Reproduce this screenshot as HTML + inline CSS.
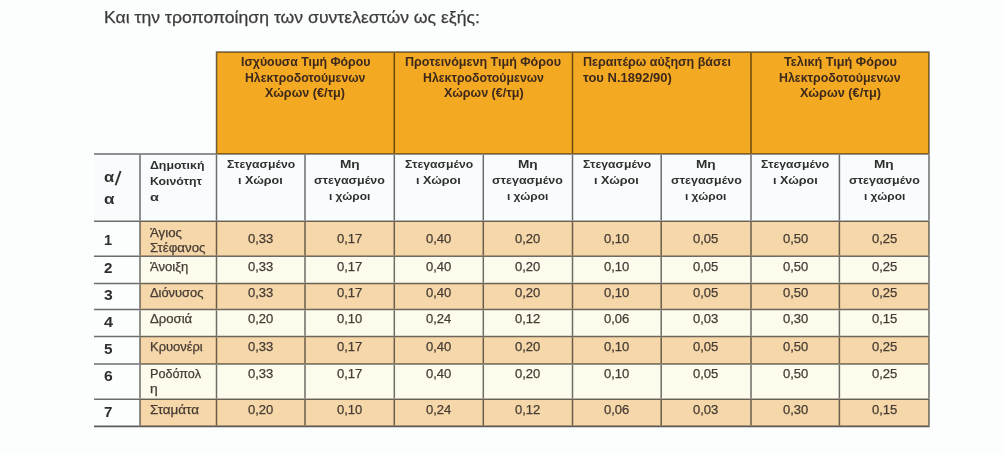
<!DOCTYPE html>
<html><head><meta charset="utf-8"><style>
html,body{margin:0;padding:0;}
body{width:1005px;height:454px;overflow:hidden;background:#fcfdfd;position:relative;font-family:"Liberation Sans",sans-serif;}
.r{position:absolute;}
.l{position:absolute;mix-blend-mode:multiply;}
.t{position:absolute;white-space:nowrap;transform-origin:0 0;}
.n{-webkit-text-stroke:0.25px currentColor;}
#w{position:absolute;left:0;top:0;width:1005px;height:454px;}
</style></head><body><div id="w">

<svg width="1005" height="454" style="position:absolute;left:0;top:0" shape-rendering="geometricPrecision">
<rect x="216.50" y="52.00" width="712.50" height="102.00" fill="#f4a923"/>
<rect x="94.00" y="154.00" width="835.00" height="67.30" fill="#f9fcfd"/>
<rect x="140.00" y="221.30" width="789.00" height="34.90" fill="#f6d7aa"/>
<rect x="140.00" y="256.20" width="789.00" height="27.20" fill="#fdfcec"/>
<rect x="140.00" y="283.40" width="789.00" height="26.10" fill="#f6d7aa"/>
<rect x="140.00" y="309.50" width="789.00" height="27.10" fill="#fdfcec"/>
<rect x="140.00" y="336.60" width="789.00" height="27.40" fill="#f6d7aa"/>
<rect x="140.00" y="364.00" width="789.00" height="35.20" fill="#fdfcec"/>
<rect x="140.00" y="399.20" width="789.00" height="27.10" fill="#f6d7aa"/>
<g style="mix-blend-mode:multiply" stroke="#6e6e6e" stroke-width="1.5" fill="none">
<line x1="215.75" y1="52.00" x2="929.75" y2="52.00"/>
<line x1="216.50" y1="52.75" x2="216.50" y2="153.25"/>
<line x1="394.30" y1="52.75" x2="394.30" y2="153.25"/>
<line x1="572.50" y1="52.75" x2="572.50" y2="153.25"/>
<line x1="751.00" y1="52.75" x2="751.00" y2="153.25"/>
<line x1="929.00" y1="52.75" x2="929.00" y2="153.25"/>
<line x1="94.00" y1="154.00" x2="929.75" y2="154.00"/>
<line x1="94.00" y1="221.30" x2="929.75" y2="221.30"/>
<line x1="94.00" y1="256.20" x2="929.75" y2="256.20"/>
<line x1="94.00" y1="283.40" x2="929.75" y2="283.40"/>
<line x1="94.00" y1="309.50" x2="929.75" y2="309.50"/>
<line x1="94.00" y1="336.60" x2="929.75" y2="336.60"/>
<line x1="94.00" y1="364.00" x2="929.75" y2="364.00"/>
<line x1="94.00" y1="399.20" x2="929.75" y2="399.20"/>
<line x1="94.00" y1="426.30" x2="929.75" y2="426.30" stroke-width="1.8" stroke="#5e5e5e"/>
<line x1="140.00" y1="154.75" x2="140.00" y2="220.55"/>
<line x1="140.00" y1="222.05" x2="140.00" y2="255.45"/>
<line x1="140.00" y1="256.95" x2="140.00" y2="282.65"/>
<line x1="140.00" y1="284.15" x2="140.00" y2="308.75"/>
<line x1="140.00" y1="310.25" x2="140.00" y2="335.85"/>
<line x1="140.00" y1="337.35" x2="140.00" y2="363.25"/>
<line x1="140.00" y1="364.75" x2="140.00" y2="398.45"/>
<line x1="140.00" y1="399.95" x2="140.00" y2="425.55"/>
<line x1="216.50" y1="154.75" x2="216.50" y2="220.55"/>
<line x1="216.50" y1="222.05" x2="216.50" y2="255.45"/>
<line x1="216.50" y1="256.95" x2="216.50" y2="282.65"/>
<line x1="216.50" y1="284.15" x2="216.50" y2="308.75"/>
<line x1="216.50" y1="310.25" x2="216.50" y2="335.85"/>
<line x1="216.50" y1="337.35" x2="216.50" y2="363.25"/>
<line x1="216.50" y1="364.75" x2="216.50" y2="398.45"/>
<line x1="216.50" y1="399.95" x2="216.50" y2="425.55"/>
<line x1="305.00" y1="154.75" x2="305.00" y2="220.55"/>
<line x1="305.00" y1="222.05" x2="305.00" y2="255.45"/>
<line x1="305.00" y1="256.95" x2="305.00" y2="282.65"/>
<line x1="305.00" y1="284.15" x2="305.00" y2="308.75"/>
<line x1="305.00" y1="310.25" x2="305.00" y2="335.85"/>
<line x1="305.00" y1="337.35" x2="305.00" y2="363.25"/>
<line x1="305.00" y1="364.75" x2="305.00" y2="398.45"/>
<line x1="305.00" y1="399.95" x2="305.00" y2="425.55"/>
<line x1="394.30" y1="154.75" x2="394.30" y2="220.55"/>
<line x1="394.30" y1="222.05" x2="394.30" y2="255.45"/>
<line x1="394.30" y1="256.95" x2="394.30" y2="282.65"/>
<line x1="394.30" y1="284.15" x2="394.30" y2="308.75"/>
<line x1="394.30" y1="310.25" x2="394.30" y2="335.85"/>
<line x1="394.30" y1="337.35" x2="394.30" y2="363.25"/>
<line x1="394.30" y1="364.75" x2="394.30" y2="398.45"/>
<line x1="394.30" y1="399.95" x2="394.30" y2="425.55"/>
<line x1="483.30" y1="154.75" x2="483.30" y2="220.55"/>
<line x1="483.30" y1="222.05" x2="483.30" y2="255.45"/>
<line x1="483.30" y1="256.95" x2="483.30" y2="282.65"/>
<line x1="483.30" y1="284.15" x2="483.30" y2="308.75"/>
<line x1="483.30" y1="310.25" x2="483.30" y2="335.85"/>
<line x1="483.30" y1="337.35" x2="483.30" y2="363.25"/>
<line x1="483.30" y1="364.75" x2="483.30" y2="398.45"/>
<line x1="483.30" y1="399.95" x2="483.30" y2="425.55"/>
<line x1="572.50" y1="154.75" x2="572.50" y2="220.55"/>
<line x1="572.50" y1="222.05" x2="572.50" y2="255.45"/>
<line x1="572.50" y1="256.95" x2="572.50" y2="282.65"/>
<line x1="572.50" y1="284.15" x2="572.50" y2="308.75"/>
<line x1="572.50" y1="310.25" x2="572.50" y2="335.85"/>
<line x1="572.50" y1="337.35" x2="572.50" y2="363.25"/>
<line x1="572.50" y1="364.75" x2="572.50" y2="398.45"/>
<line x1="572.50" y1="399.95" x2="572.50" y2="425.55"/>
<line x1="661.20" y1="154.75" x2="661.20" y2="220.55"/>
<line x1="661.20" y1="222.05" x2="661.20" y2="255.45"/>
<line x1="661.20" y1="256.95" x2="661.20" y2="282.65"/>
<line x1="661.20" y1="284.15" x2="661.20" y2="308.75"/>
<line x1="661.20" y1="310.25" x2="661.20" y2="335.85"/>
<line x1="661.20" y1="337.35" x2="661.20" y2="363.25"/>
<line x1="661.20" y1="364.75" x2="661.20" y2="398.45"/>
<line x1="661.20" y1="399.95" x2="661.20" y2="425.55"/>
<line x1="751.00" y1="154.75" x2="751.00" y2="220.55"/>
<line x1="751.00" y1="222.05" x2="751.00" y2="255.45"/>
<line x1="751.00" y1="256.95" x2="751.00" y2="282.65"/>
<line x1="751.00" y1="284.15" x2="751.00" y2="308.75"/>
<line x1="751.00" y1="310.25" x2="751.00" y2="335.85"/>
<line x1="751.00" y1="337.35" x2="751.00" y2="363.25"/>
<line x1="751.00" y1="364.75" x2="751.00" y2="398.45"/>
<line x1="751.00" y1="399.95" x2="751.00" y2="425.55"/>
<line x1="839.40" y1="154.75" x2="839.40" y2="220.55"/>
<line x1="839.40" y1="222.05" x2="839.40" y2="255.45"/>
<line x1="839.40" y1="256.95" x2="839.40" y2="282.65"/>
<line x1="839.40" y1="284.15" x2="839.40" y2="308.75"/>
<line x1="839.40" y1="310.25" x2="839.40" y2="335.85"/>
<line x1="839.40" y1="337.35" x2="839.40" y2="363.25"/>
<line x1="839.40" y1="364.75" x2="839.40" y2="398.45"/>
<line x1="839.40" y1="399.95" x2="839.40" y2="425.55"/>
<line x1="929.00" y1="154.75" x2="929.00" y2="220.55"/>
<line x1="929.00" y1="222.05" x2="929.00" y2="255.45"/>
<line x1="929.00" y1="256.95" x2="929.00" y2="282.65"/>
<line x1="929.00" y1="284.15" x2="929.00" y2="308.75"/>
<line x1="929.00" y1="310.25" x2="929.00" y2="335.85"/>
<line x1="929.00" y1="337.35" x2="929.00" y2="363.25"/>
<line x1="929.00" y1="364.75" x2="929.00" y2="398.45"/>
<line x1="929.00" y1="399.95" x2="929.00" y2="425.55"/>
</g>
<line x1="115.6" y1="185.2" x2="120.6" y2="171.0" stroke="#2f2f2f" stroke-width="1.9"/>
</svg>
<div class="t n" style="left:104.15px;top:9.00px;font-size:17px;line-height:17px;font-weight:normal;color:#3c3c3c;transform:scaleX(1.0359)">Και την τροποποίηση των συντελεστών ως εξής:</div>
<div class="t" style="left:240.72px;top:56.00px;font-size:12px;line-height:12px;font-weight:bold;color:#3d291c;transform:scaleX(1.0263)">Ισχύουσα Τιμή Φόρου</div>
<div class="t" style="left:245.22px;top:72.00px;font-size:12px;line-height:12px;font-weight:bold;color:#3d291c;transform:scaleX(1.0203)">Ηλεκτροδοτούμενων</div>
<div class="t" style="left:265.42px;top:87.00px;font-size:12px;line-height:12px;font-weight:bold;color:#3d291c;transform:scaleX(1.0487)">Χώρων (€/τμ)</div>
<div class="t" style="left:405.42px;top:56.00px;font-size:12px;line-height:12px;font-weight:bold;color:#3d291c;transform:scaleX(1.0451)">Προτεινόμενη Τιμή Φόρου</div>
<div class="t" style="left:422.92px;top:72.00px;font-size:12px;line-height:12px;font-weight:bold;color:#3d291c;transform:scaleX(1.0254)">Ηλεκτροδοτούμενων</div>
<div class="t" style="left:443.57px;top:87.00px;font-size:12px;line-height:12px;font-weight:bold;color:#3d291c;transform:scaleX(1.0447)">Χώρων (€/τμ)</div>
<div class="t" style="left:582.80px;top:56.00px;font-size:12px;line-height:12px;font-weight:bold;color:#3d291c;transform:scaleX(1.0419)">Περαιτέρω αύξηση βάσει</div>
<div class="t" style="left:582.80px;top:72.00px;font-size:12px;line-height:12px;font-weight:bold;color:#3d291c;transform:scaleX(1.0818)">του Ν.1892/90)</div>
<div class="t" style="left:783.52px;top:56.00px;font-size:12px;line-height:12px;font-weight:bold;color:#3d291c;transform:scaleX(1.0569)">Τελική Τιμή Φόρου</div>
<div class="t" style="left:779.17px;top:72.00px;font-size:12px;line-height:12px;font-weight:bold;color:#3d291c;transform:scaleX(1.0313)">Ηλεκτροδοτούμενων</div>
<div class="t" style="left:799.52px;top:87.00px;font-size:12px;line-height:12px;font-weight:bold;color:#3d291c;transform:scaleX(1.0618)">Χώρων (€/τμ)</div>
<div class="t" style="left:104.45px;top:169.00px;font-size:15px;line-height:15px;font-weight:bold;color:#2f2f2f;transform:scaleX(1.1046)">α</div>
<div class="t" style="left:104.45px;top:191.00px;font-size:15px;line-height:15px;font-weight:bold;color:#2f2f2f;transform:scaleX(1.1371)">α</div>
<div class="t" style="left:149.62px;top:160.00px;font-size:11.5px;line-height:11.5px;font-weight:bold;color:#2f2f2f;transform:scaleX(1.0713)">Δημοτική</div>
<div class="t" style="left:149.62px;top:176.00px;font-size:11.5px;line-height:11.5px;font-weight:bold;color:#2f2f2f;transform:scaleX(1.0671)">Κοινότητ</div>
<div class="t" style="left:149.62px;top:192.00px;font-size:11.5px;line-height:11.5px;font-weight:bold;color:#2f2f2f;transform:scaleX(1.2602)">α</div>
<div class="t" style="left:226.69px;top:159.00px;font-size:11.5px;line-height:11.5px;font-weight:bold;color:#2f2f2f;transform:scaleX(1.0597)">Στεγασμένο</div>
<div class="t" style="left:238.39px;top:175.00px;font-size:11.5px;line-height:11.5px;font-weight:bold;color:#2f2f2f;transform:scaleX(1.0916)">ι Χώροι</div>
<div class="t" style="left:339.79px;top:159.00px;font-size:11.5px;line-height:11.5px;font-weight:bold;color:#2f2f2f;transform:scaleX(1.1873)">Μη</div>
<div class="t" style="left:314.24px;top:175.00px;font-size:11.5px;line-height:11.5px;font-weight:bold;color:#2f2f2f;transform:scaleX(1.0823)">στεγασμένο</div>
<div class="t" style="left:329.04px;top:191.00px;font-size:11.5px;line-height:11.5px;font-weight:bold;color:#2f2f2f;transform:scaleX(1.0349)">ι χώροι</div>
<div class="t" style="left:404.74px;top:159.00px;font-size:11.5px;line-height:11.5px;font-weight:bold;color:#2f2f2f;transform:scaleX(1.0597)">Στεγασμένο</div>
<div class="t" style="left:416.44px;top:175.00px;font-size:11.5px;line-height:11.5px;font-weight:bold;color:#2f2f2f;transform:scaleX(1.0916)">ι Χώροι</div>
<div class="t" style="left:518.04px;top:159.00px;font-size:11.5px;line-height:11.5px;font-weight:bold;color:#2f2f2f;transform:scaleX(1.1873)">Μη</div>
<div class="t" style="left:492.49px;top:175.00px;font-size:11.5px;line-height:11.5px;font-weight:bold;color:#2f2f2f;transform:scaleX(1.0823)">στεγασμένο</div>
<div class="t" style="left:507.29px;top:191.00px;font-size:11.5px;line-height:11.5px;font-weight:bold;color:#2f2f2f;transform:scaleX(1.0349)">ι χώροι</div>
<div class="t" style="left:582.79px;top:159.00px;font-size:11.5px;line-height:11.5px;font-weight:bold;color:#2f2f2f;transform:scaleX(1.0597)">Στεγασμένο</div>
<div class="t" style="left:594.49px;top:175.00px;font-size:11.5px;line-height:11.5px;font-weight:bold;color:#2f2f2f;transform:scaleX(1.0916)">ι Χώροι</div>
<div class="t" style="left:696.24px;top:159.00px;font-size:11.5px;line-height:11.5px;font-weight:bold;color:#2f2f2f;transform:scaleX(1.1873)">Μη</div>
<div class="t" style="left:670.69px;top:175.00px;font-size:11.5px;line-height:11.5px;font-weight:bold;color:#2f2f2f;transform:scaleX(1.0823)">στεγασμένο</div>
<div class="t" style="left:685.49px;top:191.00px;font-size:11.5px;line-height:11.5px;font-weight:bold;color:#2f2f2f;transform:scaleX(1.0349)">ι χώροι</div>
<div class="t" style="left:761.14px;top:159.00px;font-size:11.5px;line-height:11.5px;font-weight:bold;color:#2f2f2f;transform:scaleX(1.0597)">Στεγασμένο</div>
<div class="t" style="left:772.84px;top:175.00px;font-size:11.5px;line-height:11.5px;font-weight:bold;color:#2f2f2f;transform:scaleX(1.0916)">ι Χώροι</div>
<div class="t" style="left:874.34px;top:159.00px;font-size:11.5px;line-height:11.5px;font-weight:bold;color:#2f2f2f;transform:scaleX(1.1873)">Μη</div>
<div class="t" style="left:848.79px;top:175.00px;font-size:11.5px;line-height:11.5px;font-weight:bold;color:#2f2f2f;transform:scaleX(1.0823)">στεγασμένο</div>
<div class="t" style="left:863.59px;top:191.00px;font-size:11.5px;line-height:11.5px;font-weight:bold;color:#2f2f2f;transform:scaleX(1.0349)">ι χώροι</div>
<div class="t" style="left:104.42px;top:232.00px;font-size:15.5px;line-height:15.5px;font-weight:bold;color:#2f2f2f;transform:scaleX(0.9438)">1</div>
<div class="t n" style="left:149.70px;top:227.00px;font-size:12px;line-height:12px;font-weight:normal;color:#463c34;transform:scaleX(1.1050)">Άγιος</div>
<div class="t n" style="left:149.70px;top:242.00px;font-size:12px;line-height:12px;font-weight:normal;color:#463c34;transform:scaleX(1.1068)">Στέφανος</div>
<div class="t n" style="left:248.07px;top:233.00px;font-size:12px;line-height:12px;font-weight:normal;color:#463c34;transform:scaleX(1.0856)">0,33</div>
<div class="t n" style="left:336.97px;top:233.00px;font-size:12px;line-height:12px;font-weight:normal;color:#463c34;transform:scaleX(1.0856)">0,17</div>
<div class="t n" style="left:426.12px;top:233.00px;font-size:12px;line-height:12px;font-weight:normal;color:#463c34;transform:scaleX(1.0856)">0,40</div>
<div class="t n" style="left:515.22px;top:233.00px;font-size:12px;line-height:12px;font-weight:normal;color:#463c34;transform:scaleX(1.0856)">0,20</div>
<div class="t n" style="left:604.17px;top:233.00px;font-size:12px;line-height:12px;font-weight:normal;color:#463c34;transform:scaleX(1.0856)">0,10</div>
<div class="t n" style="left:693.42px;top:233.00px;font-size:12px;line-height:12px;font-weight:normal;color:#463c34;transform:scaleX(1.0856)">0,05</div>
<div class="t n" style="left:782.52px;top:233.00px;font-size:12px;line-height:12px;font-weight:normal;color:#463c34;transform:scaleX(1.0856)">0,50</div>
<div class="t n" style="left:871.52px;top:233.00px;font-size:12px;line-height:12px;font-weight:normal;color:#463c34;transform:scaleX(1.0856)">0,25</div>
<div class="t" style="left:104.42px;top:260.00px;font-size:15.5px;line-height:15.5px;font-weight:bold;color:#2f2f2f;transform:scaleX(0.9786)">2</div>
<div class="t n" style="left:149.70px;top:261.00px;font-size:12px;line-height:12px;font-weight:normal;color:#463c34;transform:scaleX(1.0902)">Άνοιξη</div>
<div class="t n" style="left:248.07px;top:261.00px;font-size:12px;line-height:12px;font-weight:normal;color:#463c34;transform:scaleX(1.0856)">0,33</div>
<div class="t n" style="left:336.97px;top:261.00px;font-size:12px;line-height:12px;font-weight:normal;color:#463c34;transform:scaleX(1.0856)">0,17</div>
<div class="t n" style="left:426.12px;top:261.00px;font-size:12px;line-height:12px;font-weight:normal;color:#463c34;transform:scaleX(1.0856)">0,40</div>
<div class="t n" style="left:515.22px;top:261.00px;font-size:12px;line-height:12px;font-weight:normal;color:#463c34;transform:scaleX(1.0856)">0,20</div>
<div class="t n" style="left:604.17px;top:261.00px;font-size:12px;line-height:12px;font-weight:normal;color:#463c34;transform:scaleX(1.0856)">0,10</div>
<div class="t n" style="left:693.42px;top:261.00px;font-size:12px;line-height:12px;font-weight:normal;color:#463c34;transform:scaleX(1.0856)">0,05</div>
<div class="t n" style="left:782.52px;top:261.00px;font-size:12px;line-height:12px;font-weight:normal;color:#463c34;transform:scaleX(1.0856)">0,50</div>
<div class="t n" style="left:871.52px;top:261.00px;font-size:12px;line-height:12px;font-weight:normal;color:#463c34;transform:scaleX(1.0856)">0,25</div>
<div class="t" style="left:104.42px;top:287.00px;font-size:15.5px;line-height:15.5px;font-weight:bold;color:#2f2f2f;transform:scaleX(1.0133)">3</div>
<div class="t n" style="left:149.70px;top:287.00px;font-size:12px;line-height:12px;font-weight:normal;color:#463c34;transform:scaleX(1.0719)">Διόνυσος</div>
<div class="t n" style="left:248.07px;top:287.00px;font-size:12px;line-height:12px;font-weight:normal;color:#463c34;transform:scaleX(1.0856)">0,33</div>
<div class="t n" style="left:336.97px;top:287.00px;font-size:12px;line-height:12px;font-weight:normal;color:#463c34;transform:scaleX(1.0856)">0,17</div>
<div class="t n" style="left:426.12px;top:287.00px;font-size:12px;line-height:12px;font-weight:normal;color:#463c34;transform:scaleX(1.0856)">0,40</div>
<div class="t n" style="left:515.22px;top:287.00px;font-size:12px;line-height:12px;font-weight:normal;color:#463c34;transform:scaleX(1.0856)">0,20</div>
<div class="t n" style="left:604.17px;top:287.00px;font-size:12px;line-height:12px;font-weight:normal;color:#463c34;transform:scaleX(1.0856)">0,10</div>
<div class="t n" style="left:693.42px;top:287.00px;font-size:12px;line-height:12px;font-weight:normal;color:#463c34;transform:scaleX(1.0856)">0,05</div>
<div class="t n" style="left:782.52px;top:287.00px;font-size:12px;line-height:12px;font-weight:normal;color:#463c34;transform:scaleX(1.0856)">0,50</div>
<div class="t n" style="left:871.52px;top:287.00px;font-size:12px;line-height:12px;font-weight:normal;color:#463c34;transform:scaleX(1.0856)">0,25</div>
<div class="t" style="left:104.42px;top:314.00px;font-size:15.5px;line-height:15.5px;font-weight:bold;color:#2f2f2f;transform:scaleX(1.0481)">4</div>
<div class="t n" style="left:149.70px;top:313.00px;font-size:12px;line-height:12px;font-weight:normal;color:#463c34;transform:scaleX(1.0942)">Δροσιά</div>
<div class="t n" style="left:248.07px;top:313.00px;font-size:12px;line-height:12px;font-weight:normal;color:#463c34;transform:scaleX(1.0856)">0,20</div>
<div class="t n" style="left:336.97px;top:313.00px;font-size:12px;line-height:12px;font-weight:normal;color:#463c34;transform:scaleX(1.0856)">0,10</div>
<div class="t n" style="left:426.12px;top:313.00px;font-size:12px;line-height:12px;font-weight:normal;color:#463c34;transform:scaleX(1.0856)">0,24</div>
<div class="t n" style="left:515.22px;top:313.00px;font-size:12px;line-height:12px;font-weight:normal;color:#463c34;transform:scaleX(1.0856)">0,12</div>
<div class="t n" style="left:604.17px;top:313.00px;font-size:12px;line-height:12px;font-weight:normal;color:#463c34;transform:scaleX(1.0856)">0,06</div>
<div class="t n" style="left:693.42px;top:313.00px;font-size:12px;line-height:12px;font-weight:normal;color:#463c34;transform:scaleX(1.0856)">0,03</div>
<div class="t n" style="left:782.52px;top:313.00px;font-size:12px;line-height:12px;font-weight:normal;color:#463c34;transform:scaleX(1.0856)">0,30</div>
<div class="t n" style="left:871.52px;top:313.00px;font-size:12px;line-height:12px;font-weight:normal;color:#463c34;transform:scaleX(1.0856)">0,15</div>
<div class="t" style="left:104.42px;top:341.00px;font-size:15.5px;line-height:15.5px;font-weight:bold;color:#2f2f2f;transform:scaleX(0.9901)">5</div>
<div class="t n" style="left:149.70px;top:341.00px;font-size:12px;line-height:12px;font-weight:normal;color:#463c34;transform:scaleX(1.0785)">Κρυονέρι</div>
<div class="t n" style="left:248.07px;top:341.00px;font-size:12px;line-height:12px;font-weight:normal;color:#463c34;transform:scaleX(1.0856)">0,33</div>
<div class="t n" style="left:336.97px;top:341.00px;font-size:12px;line-height:12px;font-weight:normal;color:#463c34;transform:scaleX(1.0856)">0,17</div>
<div class="t n" style="left:426.12px;top:341.00px;font-size:12px;line-height:12px;font-weight:normal;color:#463c34;transform:scaleX(1.0856)">0,40</div>
<div class="t n" style="left:515.22px;top:341.00px;font-size:12px;line-height:12px;font-weight:normal;color:#463c34;transform:scaleX(1.0856)">0,20</div>
<div class="t n" style="left:604.17px;top:341.00px;font-size:12px;line-height:12px;font-weight:normal;color:#463c34;transform:scaleX(1.0856)">0,10</div>
<div class="t n" style="left:693.42px;top:341.00px;font-size:12px;line-height:12px;font-weight:normal;color:#463c34;transform:scaleX(1.0856)">0,05</div>
<div class="t n" style="left:782.52px;top:341.00px;font-size:12px;line-height:12px;font-weight:normal;color:#463c34;transform:scaleX(1.0856)">0,50</div>
<div class="t n" style="left:871.52px;top:341.00px;font-size:12px;line-height:12px;font-weight:normal;color:#463c34;transform:scaleX(1.0856)">0,25</div>
<div class="t" style="left:104.42px;top:368.00px;font-size:15.5px;line-height:15.5px;font-weight:bold;color:#2f2f2f;transform:scaleX(1.0133)">6</div>
<div class="t n" style="left:149.70px;top:368.00px;font-size:12px;line-height:12px;font-weight:normal;color:#463c34;transform:scaleX(1.0524)">Ροδόπολ</div>
<div class="t n" style="left:149.70px;top:383.00px;font-size:12px;line-height:12px;font-weight:normal;color:#463c34;transform:scaleX(1.1604)">η</div>
<div class="t n" style="left:248.07px;top:368.00px;font-size:12px;line-height:12px;font-weight:normal;color:#463c34;transform:scaleX(1.0856)">0,33</div>
<div class="t n" style="left:336.97px;top:368.00px;font-size:12px;line-height:12px;font-weight:normal;color:#463c34;transform:scaleX(1.0856)">0,17</div>
<div class="t n" style="left:426.12px;top:368.00px;font-size:12px;line-height:12px;font-weight:normal;color:#463c34;transform:scaleX(1.0856)">0,40</div>
<div class="t n" style="left:515.22px;top:368.00px;font-size:12px;line-height:12px;font-weight:normal;color:#463c34;transform:scaleX(1.0856)">0,20</div>
<div class="t n" style="left:604.17px;top:368.00px;font-size:12px;line-height:12px;font-weight:normal;color:#463c34;transform:scaleX(1.0856)">0,10</div>
<div class="t n" style="left:693.42px;top:368.00px;font-size:12px;line-height:12px;font-weight:normal;color:#463c34;transform:scaleX(1.0856)">0,05</div>
<div class="t n" style="left:782.52px;top:368.00px;font-size:12px;line-height:12px;font-weight:normal;color:#463c34;transform:scaleX(1.0856)">0,50</div>
<div class="t n" style="left:871.52px;top:368.00px;font-size:12px;line-height:12px;font-weight:normal;color:#463c34;transform:scaleX(1.0856)">0,25</div>
<div class="t" style="left:104.42px;top:404.00px;font-size:15.5px;line-height:15.5px;font-weight:bold;color:#2f2f2f;transform:scaleX(0.9786)">7</div>
<div class="t n" style="left:149.70px;top:404.00px;font-size:12px;line-height:12px;font-weight:normal;color:#463c34;transform:scaleX(1.1199)">Σταμάτα</div>
<div class="t n" style="left:248.07px;top:404.00px;font-size:12px;line-height:12px;font-weight:normal;color:#463c34;transform:scaleX(1.0856)">0,20</div>
<div class="t n" style="left:336.97px;top:404.00px;font-size:12px;line-height:12px;font-weight:normal;color:#463c34;transform:scaleX(1.0856)">0,10</div>
<div class="t n" style="left:426.12px;top:404.00px;font-size:12px;line-height:12px;font-weight:normal;color:#463c34;transform:scaleX(1.0856)">0,24</div>
<div class="t n" style="left:515.22px;top:404.00px;font-size:12px;line-height:12px;font-weight:normal;color:#463c34;transform:scaleX(1.0856)">0,12</div>
<div class="t n" style="left:604.17px;top:404.00px;font-size:12px;line-height:12px;font-weight:normal;color:#463c34;transform:scaleX(1.0856)">0,06</div>
<div class="t n" style="left:693.42px;top:404.00px;font-size:12px;line-height:12px;font-weight:normal;color:#463c34;transform:scaleX(1.0856)">0,03</div>
<div class="t n" style="left:782.52px;top:404.00px;font-size:12px;line-height:12px;font-weight:normal;color:#463c34;transform:scaleX(1.0856)">0,30</div>
<div class="t n" style="left:871.52px;top:404.00px;font-size:12px;line-height:12px;font-weight:normal;color:#463c34;transform:scaleX(1.0856)">0,15</div>
</div></body></html>
